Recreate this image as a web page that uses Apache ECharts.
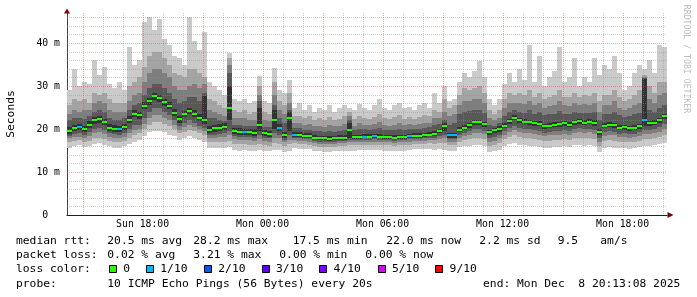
<!DOCTYPE html>
<html><head><meta charset="utf-8">
<script src="https://cdn.jsdelivr.net/npm/echarts@6/dist/echarts.min.js"></script>
<style>html,body{margin:0;padding:0;background:#fff}#c{width:697px;height:297px}</style>
</head><body><div id="c"></div>
<script>
// Time: hours since Sun 00:00; graph starts Sun 14:13:08, 15-minute bins
const START_HOUR = 14 + 13/60 + 8/3600;
const STEP_HOURS = 0.25;
const SPAN_HOURS = 30;

// median RTT (ms) per bin
const median = [
19.6,20.2,20.4,20.0,21.0,22.0,22.3,21.6,20.3,20.1,
20.0,20.4,22.2,23.6,23.2,25.4,26.5,27.6,27.2,26.2,
25.4,23.8,22.3,23.5,24.2,23.6,22.6,22.0,19.8,20.2,
20.3,20.5,24.9,19.5,19.4,19.2,19.2,19.1,21.0,19.0,
18.9,22.0,20.3,18.6,22.5,18.6,18.5,18.4,18.3,18.0,
17.8,17.8,17.7,17.8,17.9,17.9,19.8,18.1,18.1,18.2,
18.2,18.3,18.2,18.1,18.1,18.0,18.1,18.1,18.3,18.4,
18.4,18.5,18.7,18.8,19.5,20.6,18.5,18.5,19.8,20.3,
20.9,21.6,21.6,21.1,19.2,19.7,20.0,20.8,21.8,22.6,
22.0,21.7,21.6,21.3,21.2,20.6,20.8,21.0,21.1,21.3,
21.0,21.6,21.8,21.5,21.7,21.4,19.3,20.8,21.0,20.9,
20.3,20.4,20.2,20.3,20.6,22.0,21.3,21.5,22.0,23.0];

// lost pings out of 10 per bin
const lossTenths = [
0,0,1,0,0,0,0,0,0,0,
1,0,0,0,0,0,0,0,0,0,
0,0,0,0,0,0,0,0,0,0,
0,0,0,0,0,1,0,0,0,0,
0,0,1,0,0,1,0,0,0,0,
0,0,0,0,0,0,0,0,0,1,
0,1,0,0,0,0,0,0,1,0,
0,0,0,0,0,0,1,1,0,0,
0,0,0,0,0,0,0,0,0,0,
0,0,0,0,0,0,0,0,0,0,
0,0,0,0,0,0,0,0,0,0,
0,0,0,0,0,1,0,0,0,0];

// sorted ping RTTs (ms): p1 lowest ... p10 highest
const p10 = [
29,34,30,31,30.5,36,32.5,34.5,30.5,29.5,
31,29,39,35,36,45,46,43,45.5,41,
39.5,37,36.5,35,46,40.5,38.5,42.5,31,30,
29,28,37.7,27,26.5,27,26,26.5,32.3,26.5,
26,34.2,29,28.5,31.5,25,26,24.5,25.5,24,
25,24.5,25.5,24,24.8,25.5,25,24.5,25.8,25,
24.5,25.5,27,25,24.5,25.5,26,24.8,25.2,24.5,
25.5,26,25,28.4,26,30,26.5,27,31,33,
32,33.5,35.8,32,27,25.5,27,30.5,33,31,
34,31.5,39.6,31,37,30,32,33.5,39,31,
32,36.5,30,32,31,36.5,32.5,35,34,37,
33,29,30,33,35,34,36,33,39.5,39];
const p9 = [
25.5,27,26.5,27,26,28.5,28,28.5,27,26,
26,26,30,31,32,34.5,37,38,38,36.5,
35,33,32.5,32,34,34,33,32,27,26.5,
25.5,25,36.5,24.5,24,24.5,23.5,24,30,24,
23.5,31,26.5,25.5,28.5,23,23,22.5,23,22,
22.5,22,22.8,22,22.3,23,24,22.3,23,22.5,
22.3,22.8,23.5,22.5,22.3,22.8,23.2,22.4,22.8,22.3,
22.8,23.2,23,24.5,24,27,25,25.5,28,29.5,
29,29.5,30,28.5,24.5,23.5,24.5,27,28.5,28,
28.5,28,29,27.5,28.5,27,27.5,28,29,27.5,
27.5,28.5,27.5,28,27.8,28.5,26.5,28,28,29,
27.5,26.5,27,28,29,32.5,30,28.5,31,31];
const p8 = [
23.5,24.5,24,24.5,24.5,26,26.5,26,24.5,24,
24,24,26.5,28,28.5,31,33,34,34,33,
32,30,29,29,30,30.5,29.5,30.5,24.5,24,
23.5,23,35,22.5,22.5,22.5,22,22,28,22,
21.8,28,24.5,23.5,26,21.5,21.5,21,21.2,20.7,
20.8,20.5,21,20.6,20.8,21.2,23,20.8,21.3,21,
20.9,21.2,21.6,21,20.8,21,21.4,21,21.2,21,
21.2,21.5,21.5,22.5,22.5,24,23,23.5,25.5,26.5,
26.5,27,27,26,22.5,22,22.5,25,26,26,
26,25.8,26.5,25.5,26,25,25.3,25.6,26.5,25.5,
25.3,26,25.5,25.8,25.6,26,24,25.5,25.5,26.5,
25,24.5,25,25.5,26,32,27,26,28,28.5];
const p7 = [
22,22.5,22.5,22.3,23,24,24.5,24,22.5,22,
22,22.5,24.5,25.5,26,28,29.5,30.5,30.5,29.5,
28.5,27,26,26.5,27.5,27.5,26.5,28.5,22.5,22.5,
22,21.8,33,21,21,20.8,20.7,20.6,26.5,20.5,
20.4,25.5,22.5,21.5,24.5,20.2,20.2,19.8,19.8,19.5,
19.5,19.3,19.6,19.4,19.6,19.8,22,19.8,20,19.9,
19.8,20,20.2,19.8,19.7,19.7,20,19.8,20,20,
20,20.2,20.4,21,21.2,22,21,21.5,23.5,24,
24.2,24.5,24.5,23.8,21,20.8,21.3,23,24,24.5,
24,23.8,24.5,23.5,24,23.2,23.4,23.6,24.2,23.6,
23.5,24,23.8,23.8,23.8,24,22,23.5,23.6,24,
23.2,22.8,23,23.4,23.8,31.8,24.5,24,25,25.5];
const p6 = [
20.4,21,21.2,20.8,21.8,22.8,23.1,22.4,21.1,20.9,
20.8,21.2,23,24.4,24,26.2,27.3,28.4,28,27,
26.2,24.6,23.1,24.3,25,24.4,23.4,27.7,20.6,21,
21.1,21.3,30,20.3,20.2,20,20,19.9,25,19.8,
19.6,24.5,21.1,19.3,24,19.3,19.2,19.1,19,18.7,
18.4,18.4,18.3,18.4,18.5,18.5,21.5,18.7,18.7,18.8,
18.8,18.9,18.8,18.7,18.7,18.6,18.7,18.7,18.9,19,
19,19.1,19.3,19.5,20.1,21.4,19.1,19.1,20.4,20.9,
21.5,22.2,22.2,21.7,19.8,20.3,20.6,21.4,22.4,23.2,
22.6,22.3,22.2,21.9,21.8,21.2,21.4,21.6,21.7,21.9,
21.6,22.2,22.4,22.1,22.3,22,19.9,21.4,21.6,21.5,
20.9,21,20.8,20.9,21.2,31.6,21.9,22.1,22.6,23.6];
const p5 = [
18.9,19.5,19.7,19.3,20.3,21.2,21.5,20.9,19.6,19.4,
19.3,19.7,21.4,22.8,22.4,24.6,25.6,26.7,26.4,25.4,
24.6,23,21.5,22.7,23.4,22.8,21.8,21.2,19,19.4,
19.6,19.8,22,18.8,18.7,18.5,18.5,18.4,19.5,18.3,
18.2,20,19.5,17.9,19.5,18.2,18.1,18,17.9,17.6,
17.4,17.4,17.3,17.4,17.5,17.5,17.9,17.7,17.7,17.8,
17.8,17.9,17.8,17.7,17.7,17.6,17.7,17.7,17.9,18,
18,18.1,18.3,18.4,19,19.5,18,18,19.2,19.7,
20.3,21,21,20.5,18.6,19.1,19.4,20.2,21.2,22,
21.4,21.1,21,20.7,20.6,20,20.2,20.4,20.5,20.7,
20.4,21,21.2,20.9,21.1,20.8,18.7,20.2,20.4,20.3,
19.7,19.8,19.6,19.7,20,20.8,20.7,20.9,21.4,22.4];
const p4 = [
18.4,18.8,19,18.7,19.2,20,20.3,19.7,19,18.8,
18.7,19,20,21,21,22.5,24,24.8,24.8,24,
23.2,22,20.6,21.5,22,21.5,20.8,20.2,18.5,18.6,
18.9,19,19.5,18.3,18.2,18.1,18.1,18,18.5,17.9,
17.8,19,18.7,17.5,18.5,17.9,17.8,17.7,17.6,17.3,
17.1,17.1,17,17.1,17.2,17.2,17.4,17.4,17.4,17.5,
17.5,17.6,17.5,17.4,17.4,17.3,17.4,17.4,17.6,17.7,
17.7,17.8,18,18,18.4,18.7,17.6,17.6,18.7,19.1,
19.5,20,20,19.6,17.9,18.2,18.6,19.5,20.3,20.8,
20.3,20,19.9,19.7,19.6,19.1,19.3,19.5,19.5,19.7,
19.5,20,20.2,19.9,20.1,19.8,17.9,19.3,19.5,19.4,
18.9,19,18.8,18.9,19.2,19.8,19.8,20,20.4,21.2];
const p3 = [
17.8,18.1,18.2,18,18.3,19,19.2,18.8,18.2,18,
18,18.2,19,19.8,20,21.2,22.5,23.2,23.2,22.6,
22,21,19.8,20.5,21,20.5,20,19.5,17.8,17.9,
18.1,18.2,18.5,17.6,17.5,17.5,17.4,17.3,17.6,17.2,
17.1,18,17.8,16.9,17.5,17.4,17.3,17.2,17.1,16.8,
16.6,16.6,16.5,16.6,16.7,16.7,16.9,16.9,16.9,17,
17,17.1,17,16.9,16.9,16.8,16.9,16.9,17.1,17.2,
17.2,17.3,17.4,17.4,17.7,17.9,17,17,18,18.4,
18.7,19.1,19.1,18.8,17,17.3,17.8,18.7,19.4,19.8,
19.3,19.1,19,18.8,18.7,18.3,18.5,18.6,18.6,18.8,
18.6,19.1,19.3,19,19.2,18.9,17.1,18.4,18.6,18.5,
18.1,18.2,18,18.1,18.4,18.9,18.9,19.1,19.4,20];
const p2 = [
17,17.2,17.4,17,17.3,17.8,18,17.6,17.3,17,
17,17.3,17.8,18.5,19,20,21,21.6,21.7,21.2,
20.6,20,19,19.3,19.8,19.5,19,18.5,17,17,
17,17.1,17.3,16.6,16.5,16.5,16.4,16.3,16.5,16.2,
16.1,16.8,16.6,16,16.5,16.7,16.6,16.5,16.4,16.1,
15.9,15.9,15.8,15.9,16,16,16.2,16.2,16.2,16.3,
16.3,16.4,16.3,16.2,16.2,16.1,16.2,16.2,16.4,16.5,
16.5,16.6,16.7,16.6,16.8,16.8,16.2,16.3,17.1,17.4,
17.6,17.9,17.9,17.6,16,16.2,16.8,17.6,18.2,18.5,
18.1,17.9,17.8,17.6,17.5,17.2,17.3,17.4,17.4,17.6,
17.4,17.9,18,17.8,17.9,17.7,16,17.3,17.4,17.3,
17,17.1,16.9,17,17.3,17.7,17.7,17.9,18.1,18.6];
const p1 = [
15.6,16,16.2,15.8,16,16.5,16.8,16.4,16,15.7,
15.7,16,16.5,17,17.5,18.3,19.2,19.5,19.5,19.2,
18.7,18.3,17.5,17.8,18.3,18,17.5,17,15.6,15.5,
15.5,15.6,15.8,15.2,15,15.1,15,14.9,15.2,14.9,
14.8,15.2,15.2,14.7,15,15.5,15.4,15.3,15.3,15,
14.8,14.7,14.7,14.8,14.9,14.8,15,15,15.1,15.1,
15.1,15.2,15.1,15,15,14.9,15,15,15.2,15.3,
15.3,15.4,15.4,15.2,15.3,15.2,14.8,15,15.8,16,
16.1,16.3,16.3,16,14.7,14.8,15.2,16,16.5,16.7,
16.4,16.2,16.1,16,15.9,15.6,15.7,15.9,15.9,16,
15.8,16.2,16.3,16.1,16.2,16,14.6,15.7,15.8,15.7,
15.5,15.6,15.4,15.5,15.8,16.1,16.1,16.3,16.5,16.8];

// axis ticks / labels
const xTickHours = [18, 24, 30, 36, 42];
const xTickLabels = ['Sun 18:00', 'Mon 00:00', 'Mon 06:00', 'Mon 12:00', 'Mon 18:00'];
const yTickValues = [0, 10, 20, 30, 40];
const yTickLabels = ['0  ', '10 m', '20 m', '30 m', '40 m'];
const minorHours = [16,17,19,20,22,23,25,26,28,29,31,32,34,35,37,38,40,41,43,44];
const majorHours = [15,18,21,24,27,30,33,36,39,42];
const minorLevels = [2,4,6,8,12,14,16,18,22,24,26,28,32,34,36,38,42,44,46];
const majorLevels = [10,20,30,40];

// loss legend
const lossSteps = [0, 1, 2, 3, 4, 5, 9];
const lossLabels = ['0', '1/10', '2/10', '3/10', '4/10', '5/10', '9/10'];
const lossColors = ['#26ff00', '#00b8ff', '#0059ff', '#5e00ff', '#7e00ff', '#dd00ff', '#ff0000'];

// legend text
const rttLine = [['median rtt:',16],['20.5 ms avg',107.3],['28.2 ms max',193.3],['17.5 ms min',292.7],['22.0 ms now',386.3],['2.2 ms sd',479.3],['9.5',557.7],['am/s',600.3]];
const lossLine = [['packet loss:',16],['0.02 % avg',107.3],['3.21 % max',193.3],['0.00 % min',279.3],['0.00 % now',365.3]];
const probeText = '10 ICMP Echo Pings (56 Bytes) every 20s';
const endText = 'end: Mon Dec  8 20:13:08 2025';

const MONO = '"DejaVu Sans Mono", monospace';
const times = median.map((_, i) => START_HOUR + STEP_HOURS * (i + 0.5));

const bands = [
  [p1, p10, '#cacaca'],
  [p2, p9, '#a4a4a4'],
  [p3, p8, '#7e7e7e'],
  [p4, p7, '#585858'],
  [p5, p6, '#323232']
];

function bandRender(color) {
  return function (params, api) {
    const t = api.value(0), lo = api.value(1), hi = api.value(2);
    const a = api.coord([t - STEP_HOURS / 2, hi]);
    const b = api.coord([t + STEP_HOURS / 2, lo]);
    const x0 = Math.round(a[0]), x1 = Math.round(b[0]);
    const y0 = Math.round(a[1]), y1 = Math.round(b[1]);
    return { type: 'rect', shape: { x: x0, y: y0, width: x1 - x0, height: Math.max(1, y1 - y0) }, style: { fill: color } };
  };
}
function medianRender(params, api) {
  const t = api.value(0), m = api.value(1);
  const a = api.coord([t - STEP_HOURS / 2, m]);
  const b = api.coord([t + STEP_HOURS / 2, m]);
  const x0 = Math.round(a[0]), x1 = Math.round(b[0]), yc = Math.round(a[1]);
  return { type: 'rect', shape: { x: x0, y: yc - 1, width: x1 - x0, height: 2 }, style: { fill: api.visual('color') } };
}
function vLine(color) {
  return function (params, api) {
    const x = Math.round(api.coord([api.value(0), 0])[0]) + 0.5;
    const cs = params.coordSys;
    return { type: 'line', shape: { x1: x, y1: cs.y, x2: x, y2: cs.y + cs.height }, style: { stroke: color, lineWidth: 1, lineDash: [1, 1] } };
  };
}
function hLine(color) {
  return function (params, api) {
    const y = Math.round(api.coord([START_HOUR, api.value(1)])[1]) + 0.5;
    const cs = params.coordSys;
    return { type: 'line', shape: { x1: cs.x, y1: y, x2: cs.x + cs.width, y2: y }, style: { stroke: color, lineWidth: 1, lineDash: [1, 1] } };
  };
}

const series = [];
bands.forEach(([lo, hi, color]) => {
  series.push({
    type: 'custom', renderItem: bandRender(color), clip: true, silent: true,
    encode: { x: 0, y: [1, 2] },
    data: times.map((t, i) => [t, lo[i], hi[i]])
  });
});
series.push({
  type: 'custom', renderItem: medianRender, clip: true, silent: true,
  encode: { x: 0, y: 1 },
  data: times.map((t, i) => ({ value: [t, median[i]], itemStyle: { color: lossColors[lossSteps.indexOf(lossTenths[i])] } }))
});
const GRID_MINOR = 'rgba(140,140,140,0.42)';
const GRID_MAJOR = 'rgba(222,79,79,0.5)';
series.push({ type: 'custom', renderItem: vLine(GRID_MINOR), silent: true, encode: { x: 0, y: 1 }, data: minorHours.map(h => [h, 0]) });
series.push({ type: 'custom', renderItem: hLine(GRID_MINOR), silent: true, encode: { x: 0, y: 1 }, data: minorLevels.map(v => [START_HOUR, v]) });
series.push({ type: 'custom', renderItem: vLine(GRID_MAJOR), silent: true, encode: { x: 0, y: 1 }, data: majorHours.map(h => [h, 0]) });
series.push({ type: 'custom', renderItem: hLine(GRID_MAJOR), silent: true, encode: { x: 0, y: 1 }, data: majorLevels.map(v => [START_HOUR, v]) });

const graphic = [];
function txt(text, x, y, opts) {
  graphic.push(Object.assign({ type: 'text', x: x, y: y, silent: true,
    style: Object.assign({ text: text, fill: '#000', font: '11.3px ' + MONO, align: 'left', verticalAlign: 'middle' }, (opts && opts.style) || {}) },
    opts && opts.rotation !== undefined ? { rotation: opts.rotation } : {}));
}
rttLine.forEach(([s, x]) => txt(s, x, 241.3));
lossLine.forEach(([s, x]) => txt(s, x, 255.4));
txt('loss color:', 16, 269.4);
const squareX = [109, 146, 204, 261.7, 319.3, 377.7, 435.3];
lossLabels.forEach((lab, i) => {
  const sx = Math.round(squareX[i]) + 0.5;
  graphic.push({ type: 'rect', silent: true, shape: { x: sx, y: 265.5, width: 7, height: 7 }, style: { fill: lossColors[i], stroke: '#000', lineWidth: 1 } });
  txt(lab, squareX[i] + 14.3, 269.4);
});
txt('probe:', 16, 283.6);
txt(probeText, 107.3, 283.6);
txt(endText, 680.3, 283.6, { style: { align: 'right' } });
txt('Seconds', 11, 114, { rotation: Math.PI / 2, style: { align: 'center', font: '11.3px ' + MONO } });
txt('RRDTOOL / TOBI OETIKER', 686, 59, { rotation: -Math.PI / 2, style: { align: 'center', font: '8.2px ' + MONO, fill: '#bdbdbd' } });
// axis arrows
graphic.push({ type: 'polygon', silent: true, shape: { points: [[64, 13.5], [70, 13.5], [67, 8.5]] }, style: { fill: '#800000' } });
graphic.push({ type: 'polygon', silent: true, shape: { points: [[667.5, 212], [667.5, 218], [673.5, 215]] }, style: { fill: '#800000' } });

const chart = echarts.init(document.getElementById('c'), null, { renderer: 'canvas' });
chart.setOption({
  animation: false,
  backgroundColor: '#ffffff',
  grid: { left: 67, right: 30, top: 13, bottom: 82, containLabel: false, outerBoundsMode: 'none' },
  xAxis: {
    type: 'value', min: START_HOUR, max: START_HOUR + SPAN_HOURS,
    axisLine: { show: true, onZero: false, lineStyle: { color: '#202020', width: 1 } },
    axisTick: { show: false }, splitLine: { show: false },
    axisLabel: { customValues: xTickHours, formatter: v => xTickLabels[xTickHours.indexOf(v)] || '',
      fontFamily: MONO, fontSize: 9.8, color: '#000', margin: 4 }
  },
  yAxis: {
    type: 'value', min: 0, max: 47,
    axisLine: { show: true, lineStyle: { color: '#404040', width: 1 } },
    axisTick: { show: false }, splitLine: { show: false },
    axisLabel: { customValues: yTickValues, formatter: v => yTickLabels[yTickValues.indexOf(v)] || '',
      fontFamily: MONO, fontSize: 9.8, color: '#000', margin: 7 }
  },
  graphic: graphic,
  series: series
});
</script>
</body></html>
